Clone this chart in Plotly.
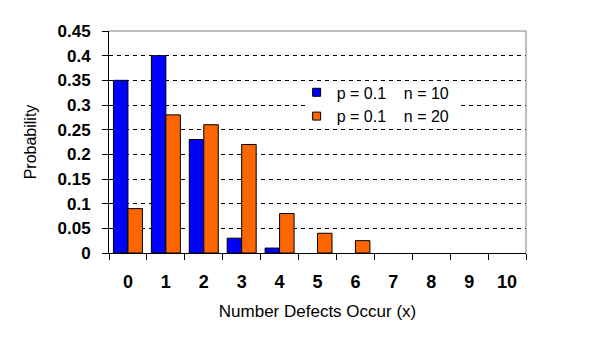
import plotly.graph_objects as go

categories = ["0", "1", "2", "3", "4", "5", "6", "7", "8", "9", "10"]
p_n10 = [0.35, 0.40, 0.23, 0.03, 0.01, 0, 0, 0, 0, 0, 0]
p_n20 = [0.09, 0.28, 0.26, 0.22, 0.08, 0.04, 0.025, 0, 0, 0, 0]
names = ["p = 0.1\u00a0\u00a0\u00a0\u00a0n = 10", "p = 0.1\u00a0\u00a0\u00a0\u00a0n = 20"]
colors = ["#0000FF", "#FF6600"]
y_ticks = [0, 0.05, 0.1, 0.15, 0.2, 0.25, 0.3, 0.35, 0.4, 0.45]

FONT = "Liberation Sans, Arial, sans-serif"

fig = go.Figure()
for vals, nm, col in zip([p_n10, p_n20], names, colors):
    fig.add_trace(go.Bar(x=categories, y=vals, name=nm, marker_color=col,
                         marker_line_color="black",
                         marker_line_width=[1 if v > 0 else 0 for v in vals],
                         showlegend=False))
for i, (nm, col) in enumerate(zip(names, colors)):
    fig.add_trace(go.Scatter(x=[None], y=[None], mode="markers", name=nm,
                             legendgroup=f"g{i}",
                             marker=dict(symbol="square", size=8, color=col,
                                         line=dict(color="black", width=1))))

fig.update_layout(
    width=593, height=350,
    margin=dict(l=109, r=67, t=31, b=97, autoexpand=False),
    paper_bgcolor="white", plot_bgcolor="white",
    barmode="group", bargap=0.235, bargroupgap=0,
    font=dict(family=FONT, color="black"),
    legend=dict(x=0.45, y=0.80, xanchor="left", yanchor="top",
                bgcolor="rgba(0,0,0,0)", font=dict(size=16, family=FONT),
                tracegroupgap=0, traceorder="grouped"),
    xaxis=dict(type="category", tickson="boundaries", ticks="outside", ticklen=6,
               tickcolor="black", showline=True, linecolor="black", linewidth=1,
               showgrid=False, tickfont=dict(size=18, family=FONT, weight="bold"),
               ticklabelstandoff=12,
               title=dict(text="Number Defects Occur (x)", font=dict(size=17), standoff=14)),
    yaxis=dict(range=[0, 0.45], tickvals=y_ticks, ticks="outside", ticklen=6,
               tickcolor="black", showline=True, linecolor="black", linewidth=1,
               showgrid=True, gridcolor="black", griddash="4px,4px", gridwidth=1,
               zeroline=False, tickfont=dict(size=17, family=FONT, weight="bold"),
               ticklabelstandoff=8,
               title=dict(text="Probability", font=dict(size=16), standoff=16)),
    shapes=[
        dict(type="rect", xref="paper", yref="paper", x0=0.477, x1=0.842,
             y0=0.568, y1=0.757, fillcolor="white", line=dict(width=0), layer="above"),
        dict(type="line", xref="paper", yref="paper", x0=0, x1=1, y0=1, y1=1,
             line=dict(color="#808080", width=1), layer="above"),
        dict(type="line", xref="paper", yref="paper", x0=1, x1=1, y0=0, y1=1,
             line=dict(color="#808080", width=1), layer="above"),
    ],
)

fig.write_html("out.html")
